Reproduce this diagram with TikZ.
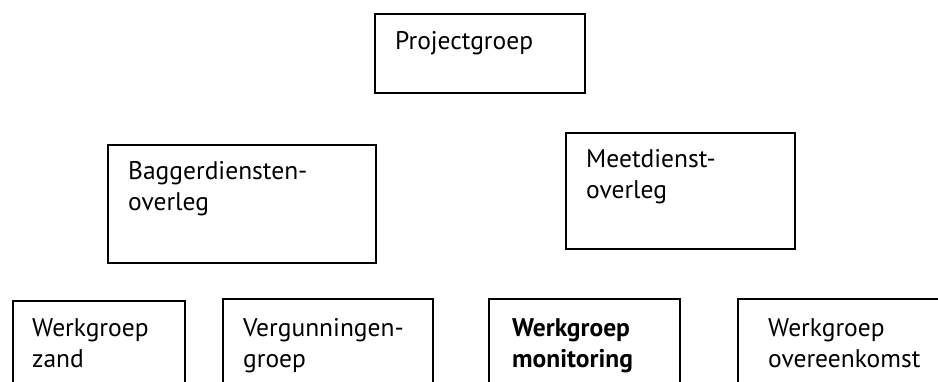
\documentclass[tikz,border=0pt]{standalone}
\usepackage{fontspec}
\setmainfont{PT Sans}

\begin{document}
\begin{tikzpicture}[x=1pt,y=-1pt,
    orgbox/.style={draw,line width=1.8pt,rectangle,inner sep=0pt,anchor=north west},
    orgtext/.style={anchor=base west,inner sep=0pt,align=left,font=\fontsize{25.5}{31}\selectfont}]
  \useasboundingbox (0,0) rectangle (938,382);
  \clip (0,0) rectangle (938,382);

  % top level
  \node[orgbox,minimum width=210pt,minimum height=79pt] (pg) at (374,13) {};
  \node[orgtext] (pgtext) at ([shift={(21,37)}]pg.north west) {Projectgroep};

  % second level (base anchor sits on the last line)
  \node[orgbox,minimum width=268pt,minimum height=118pt] (bdo) at (107,144) {};
  \node[orgtext] (bdotext) at ([shift={(21,67)}]bdo.north west) {Baggerdiensten-\\overleg};
  \node[orgbox,minimum width=229pt,minimum height=116pt] (mdo) at (565,132) {};
  \node[orgtext] (mdotext) at ([shift={(21,67)}]mdo.north west) {Meetdienst-\\overleg};

  % working groups, cut off at the bottom edge
  \node[orgbox,minimum width=172pt,minimum height=110pt] (wgz) at (12,300) {};
  \node[orgtext] (wgztext) at ([shift={(20,67)}]wgz.north west) {Werkgroep\\zand};
  \node[orgbox,minimum width=210pt,minimum height=110pt] (vg) at (222,298) {};
  \node[orgtext] (vgtext) at ([shift={(21,69)}]vg.north west) {Vergunningen-\\groep};
  \node[orgbox,minimum width=191pt,minimum height=110pt] (wgm) at (488,298) {};
  \node[orgtext,font=\fontsize{25.5}{31}\selectfont\bfseries] (wgmtext) at ([shift={(24,69)}]wgm.north west) {Werkgroep\\monitoring};
  \node[orgbox,minimum width=230pt,minimum height=110pt] (wgo) at (737,298) {};
  \node[orgtext] (wgotext) at ([shift={(31,69)}]wgo.north west) {Werkgroep\\overeenkomst};
\end{tikzpicture}
\end{document}
